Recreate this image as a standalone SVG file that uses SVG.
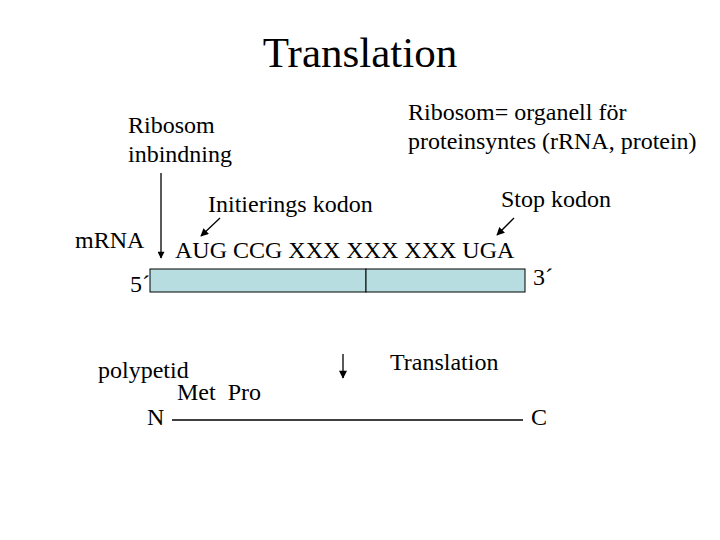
<svg xmlns="http://www.w3.org/2000/svg" width="720" height="540" viewBox="0 0 720 540">
<defs>
<style>
.t{font-size:24px}
.ln{stroke:#000;stroke-width:1.3;fill:none}
</style>
<marker id="ah" viewBox="0 0 10 10" refX="9" refY="5" markerWidth="8" markerHeight="7" orient="auto" markerUnits="userSpaceOnUse">
<path d="M0,0 L10,5 L0,10 z" fill="#000"/>
</marker>
<marker id="ah2" viewBox="0 0 10 10" refX="9" refY="5" markerWidth="9" markerHeight="8" orient="auto" markerUnits="userSpaceOnUse">
<path d="M0,0 L10,5 L0,10 z" fill="#000"/>
</marker>
</defs>
<rect width="720" height="540" fill="#fff"/>
<g font-family="'Liberation Serif', 'DejaVu Serif', serif" fill="#000">
<g id="title"><text x="360" y="67" font-size="43" text-anchor="middle">Translation</text></g>
<g id="ribosom-inbindning"><text class="t" x="128" y="133">Ribosom</text><text class="t" x="128" y="162">inbindning</text></g>
<g id="ribosom-def"><text class="t" x="408" y="120">Ribosom= organell för</text><text class="t" x="408" y="149">proteinsyntes (rRNA, protein)</text></g>
<g id="init-label"><text class="t" x="208" y="212">Initierings kodon</text></g>
<g id="stop-label"><text class="t" x="501" y="207">Stop kodon</text></g>
<g id="mrna-label"><text class="t" x="75" y="248">mRNA</text></g>
<g id="codons"><text class="t" x="175" y="258">AUG CCG XXX XXX XXX UGA</text></g>
<g id="mrna">
<text class="t" x="130" y="292">5´</text>
<rect x="150" y="269" width="216" height="23" fill="#b7dde0" stroke="#000" stroke-width="1"/>
<rect x="366" y="269" width="159" height="23" fill="#b7dde0" stroke="#000" stroke-width="1"/>
<text class="t" x="533" y="285">3´</text>
</g>
<g id="polypeptide">
<text class="t" x="98" y="378">polypetid</text>
<text class="t" x="177" y="400" xml:space="preserve">Met  Pro</text>
<text class="t" x="147" y="425">N</text>
<line class="ln" x1="172" y1="420" x2="523" y2="420"/>
<text class="t" x="531" y="425">C</text>
</g>
<g id="translation-label"><text class="t" x="390" y="370">Translation</text></g>
</g>
<g id="connectors">
<line class="ln" x1="161" y1="173" x2="161" y2="258" marker-end="url(#ah)"/>
<line class="ln" x1="220" y1="218" x2="201" y2="236" stroke-width="2" marker-end="url(#ah2)"/>
<line class="ln" x1="514" y1="218" x2="497" y2="235" stroke-width="2" marker-end="url(#ah2)"/>
<line class="ln" x1="343" y1="354" x2="343" y2="378" stroke-width="2" marker-end="url(#ah2)"/>
</g>
</svg>
